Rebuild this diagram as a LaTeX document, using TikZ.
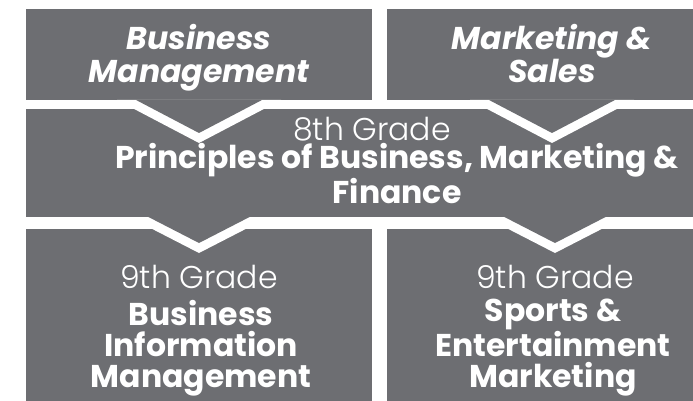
\documentclass[tikz,border=0pt]{standalone}
\usepackage{fontspec}
\setmainfont{Poppins}
\newfontfamily\gradefont{Poppins Light}
\usepackage{xcolor}
\usetikzlibrary{calc}
\definecolor{pathgray}{RGB}{109,110,114}

\tikzset{
  pathbox/.style={fill=pathgray, inner sep=0pt, outer sep=0pt, anchor=north west},
  pathtitle/.style={text=white, inner sep=0pt, anchor=base, align=center,
    font=\fontsize{31.5}{33}\selectfont\bfseries\itshape},
  course/.style={text=white, inner sep=0pt, anchor=base, align=center,
    font=\fontsize{31.5}{31}\selectfont\bfseries},
  grade/.style={text=white, inner sep=0pt, anchor=base, text depth=0pt,
    font=\fontsize{31.5}{31}\selectfont\gradefont}
}
% chevron: base point, half width, depth
\newcommand{\chevron}[3]{%
  \fill[white] ($(#1)+(-#2,0)$) -- ($(#1)+(0,#3)$) -- ($(#1)+(#2,0)$) -- cycle;
  \fill[pathgray] ($(#1)+({-#2+#2*10/#3},0)$) -- ($(#1)+(0,#3-10)$) -- ($(#1)+({#2-#2*10/#3},0)$) -- cycle;}

\begin{document}
\begin{tikzpicture}[x=1pt, y=-1pt]
\useasboundingbox (0,0) rectangle (693,401);

% pathway boxes
\node[pathbox, minimum width=346pt, minimum height=91pt] (bm) at (26,9) {};
\node[pathbox, minimum width=306pt, minimum height=91pt] (ms) at (387,9) {};
\node[pathbox, minimum width=667pt, minimum height=108pt] (pbmf) at (26,109) {};
\node[pathbox, minimum width=346pt, minimum height=172pt] (bim) at (26,229) {};
\node[pathbox, minimum width=306pt, minimum height=172pt] (sem) at (387,229) {};

% texts (base = last line)
\node[pathtitle] (bmtitle) at (199,83) {Business\\Management};
\node[pathtitle] (mstitle) at (552,83) {Marketing \&\\Sales};
\node[grade] (pbmfgrade) at (372,141) {8th Grade};
\node[course] (pbmfname) at (397,203) {Principles of Business, Marketing \&\\Finance};
\node[grade] (bimgrade) at (199,288) {9th Grade};
\node[course] (bimname) at (201,387) {Business\\Information\\Management};
\node[grade] (semgrade) at (555,288) {9th Grade};
\node[course] (semname) at (553,387) {Sports \&\\Entertainment\\Marketing};

% chevrons
\chevron{bm.south -| bmtitle}{82}{43}
\chevron{ms.south -| mstitle}{82}{43}
\chevron{pbmf.south -| bimgrade}{70}{36}
\chevron{pbmf.south -| semgrade}{70}{36}
\end{tikzpicture}
\end{document}
